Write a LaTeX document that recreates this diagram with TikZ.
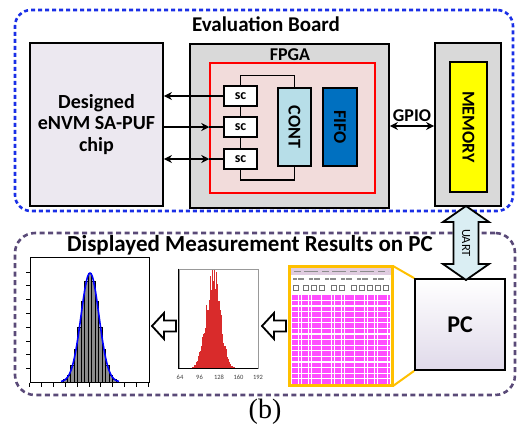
\documentclass[tikz,border=0pt]{standalone}
\usepackage{fontspec}
\setmainfont{Carlito}
\newfontfamily\capfont{Liberation Serif}
\usetikzlibrary{arrows.meta,calc}

\definecolor{boardblue}{HTML}{1A2FE6}
\definecolor{pcpurple}{HTML}{5A4A78}
\definecolor{fpgagray}{HTML}{D9D9D9}
\definecolor{chipfill}{HTML}{ECE8F0}
\definecolor{plfill}{HTML}{F2DCDB}
\definecolor{contblue}{HTML}{B7DEE8}
\definecolor{fifoblue}{HTML}{0070C0}
\definecolor{memyellow}{HTML}{FFFF00}
\definecolor{uartblue}{HTML}{DAEEF3}
\definecolor{zoomgold}{HTML}{FFC000}
\definecolor{rowpink}{HTML}{FF4DFF}
\definecolor{pcbottom}{HTML}{E0DAEA}
\definecolor{histred}{HTML}{D92B2B}

\tikzset{
  blk/.style={draw, line width=1.8pt, inner sep=0pt},
  mid/.style={font=\bfseries\fontsize{18}{18}\selectfont},
  wire/.style={line width=1.8pt},
  tip/.style={line width=1.8pt, arrows={-Stealth[length=8pt,width=8pt]}},
  tiptip/.style={line width=1.8pt, arrows={Stealth[length=8pt,width=8pt]-Stealth[length=8pt,width=8pt]}},
  ticklbl/.style={font=\fontsize{6.5}{6.5}\selectfont, text=black!75, inner sep=0pt}
}

\begin{document}
\begin{tikzpicture}[x=1pt, y=-1pt]
    \useasboundingbox (0,0) rectangle (519,429);

    % Dashed frames
    \node[draw=boardblue, line width=2.6pt, dash pattern=on 4pt off 3pt, rounded corners=16pt,
          minimum width=498pt, minimum height=201pt] (board) at (264,110.5) {};
    \node[draw=pcpurple, line width=2.6pt, dash pattern=on 5pt off 3.5pt, rounded corners=20pt,
          minimum width=500pt, minimum height=162pt] (pcarea) at (265,314) {};
    \node[font=\bfseries\fontsize{21}{21}\selectfont] (boardttl) at (266,24) {Evaluation Board};
    \node[font=\bfseries\fontsize{23}{23}\selectfont] (pcttl) at (250,245) {Displayed Measurement Results on PC};

    % Chip under test
    \node[blk, fill=chipfill, minimum width=133pt, minimum height=163pt, align=center,
          font=\bfseries\fontsize{20}{21.5}\selectfont] (chip) at (96.5,124.5) {Designed\\eNVM SA-PUF\\chip};

    % FPGA with controller logic
    \node[blk, fill=fpgagray, minimum width=199pt, minimum height=164pt] (fpga) at (289.5,126) {};
    \node[mid] (fpgattl) at (290,55) {FPGA};
    \node[draw=red, line width=1.5pt, fill=plfill, minimum width=165pt, minimum height=130pt] (pl) at (292.5,128) {};
    \foreach \n/\y in {1/96,2/127,3/159}
        \node[blk, line width=1.5pt, fill=white, minimum width=33pt, minimum height=20pt,
              font=\bfseries\fontsize{14}{14}\selectfont] (sc\n) at (240.5,\y) {sc};
    \node[blk, fill=contblue, minimum width=33pt, minimum height=78pt] (cont) at (294.5,127) {};
    \node[mid, rotate=-90] (conttxt) at (cont) {CONT};
    \node[blk, fill=fifoblue, minimum width=34pt, minimum height=78pt] (fifo) at (340,127) {};
    \node[mid, rotate=-90] (fifotxt) at (fifo) {FIFO};

    % sc chain and bus to CONT
    \draw[line width=1.5pt] (sc1.south) -- (sc2.north) (sc2.south) -- (sc3.north);
    \draw[line width=1.5pt] (sc1.north) -- ++(0,-10) -| (cont.north);
    \draw[line width=1.5pt] (sc3.south) -- ++(0,10) -| (cont.south);

    % chip <-> sc links
    \draw[tip] (sc1.west) -- (chip.east |- sc1.west);
    \draw[tip] (chip.east |- sc2.west) -- (pl.west |- sc2.west);
    \draw[wire] (pl.west |- sc2.west) -- (sc2.west);
    \draw[tiptip] (chip.east |- sc3.west) -- (pl.west |- sc3.west);
    \draw[wire] (pl.west |- sc3.west) -- (sc3.west);

    % Memory
    \node[blk, fill=fpgagray, minimum width=66pt, minimum height=163pt] (mem) at (468,124.5) {};
    \node[blk, fill=memyellow, minimum width=37pt, minimum height=130pt] (memcore) at (468.5,127) {};
    \node[mid, rotate=-90] (memtxt) at (memcore) {MEMORY};

    % GPIO
    \draw[tiptip] (fpga.east) -- (fpga.east -| mem.west) coordinate[midway] (gpiomid);
    \node[mid, above=1pt] (gpio) at (gpiomid) {GPIO};

    % PC
    \node[blk, top color=white, bottom color=pcbottom, minimum width=90pt, minimum height=91pt,
          font=\bfseries\fontsize{24}{24}\selectfont] (pc) at (460,324.5) {PC};

    % UART double arrow
    \draw[line width=1.8pt, fill=uartblue, line join=miter]
        (466,206) -- (489,222) -- (478.5,222) -- (478.5,264) -- (489,264) -- (466,280)
        -- (443,264) -- (453.5,264) -- (453.5,222) -- (443,222) -- cycle;
    \node[rotate=-90, font=\fontsize{12.5}{12.5}\selectfont] (uart) at (466,243) {UART};

    % Terminal window
    \node[draw=zoomgold, line width=2pt, fill=white, minimum width=102pt, minimum height=118pt] (scr) at (341,326) {};
    \fill[black!22!violet!20] (291,268) rectangle (391,274.5);
    \draw[black!45, line width=1.3pt, dash pattern=on 7pt off 3pt on 14pt off 4pt] (294,271.2) -- (388,271.2);
    \draw[black!45, line width=1.3pt, dash pattern=on 4pt off 1pt on 6pt off 5pt] (293,279) -- (389,279);
    \foreach \x in {293,303,311,319,331,339,351,359,367,375,383}
        \draw[black!55, line width=0.8pt] (\x,285.5) rectangle ++(5,5);
    \foreach \k in {0,...,15}
        \draw[rowpink, line width=4.4pt, dash pattern=on 2.8pt off 0.5pt] (292,{297.5+5.6*\k}) -- (390,{297.5+5.6*\k});
    \draw[zoomgold, line width=2pt] (scr.north west) rectangle (scr.south east);
    \draw[zoomgold, line width=2pt] (scr.north east) -- (pc.north west);
    \draw[zoomgold, line width=2pt] (scr.south east) -- (pc.south west);

    % Raw histogram
    \node[draw=black!40, line width=0.6pt, fill=white, minimum width=79pt, minimum height=99pt] (hist) at (218.5,318.5) {};
    \pgfmathsetseed{7}
    \foreach \i in {0,...,58} {
        \pgfmathsetmacro\xl{192+0.8*\i}
        \pgfmathsetmacro\hh{min(98,97*exp(-(\xl+0.4-213)^2/98)*(0.72+0.4*rnd))}
        \fill[histred] (\xl,368) rectangle ++(0.8,-\hh);
    }
    \draw[black, line width=0.8pt] (hist.north west) -- (hist.south west) -- (hist.south east);
    \foreach \v in {64,96,128,160,192}
        \node[ticklbl] (t\v) at ({180+(\v-64)*78/128},377) {\v};

    % Fitted distribution
    \node[draw, line width=1pt, minimum width=119pt, minimum height=125pt] (gauss) at (89.5,319.5) {};
    \foreach \k in {1,...,8}
        \draw[line width=1pt] (gauss.south west) ++(0,{-13.8*\k}) -- ++(-4,0);
    \foreach \k in {0,...,10}
        \draw[line width=1pt] (gauss.south west) ++({11.9*\k},0) -- ++(0,4);
    \foreach \i in {0,...,14} {
        \pgfmathsetmacro\xl{63.75+3.5*\i}
        \pgfmathsetmacro\hh{109*exp(-(\xl+1.75-90)^2/162)}
        \draw[fill=black!45, line width=0.6pt] (\xl,382) rectangle ++(3.5,-\hh);
    }
    \draw[blue, line width=1.6pt] plot[domain=61:119, samples=80, smooth] (\x,{382-109*exp(-(\x-90)^2/162)});

    % Hollow arrows between plots
    \foreach \x/\y in {152/326,262/326}
        \draw[line width=1.8pt, fill=white, line join=miter]
            (\x,\y) -- ++(12,-13) -- ++(0,7.5) -- ++(12,0) -- ++(0,11) -- ++(-12,0) -- ++(0,7.5) -- cycle;

    % Caption
    \node[font=\capfont\fontsize{28}{28}\selectfont] (cap) at (265,412) {(b)};
\end{tikzpicture}
\end{document}
